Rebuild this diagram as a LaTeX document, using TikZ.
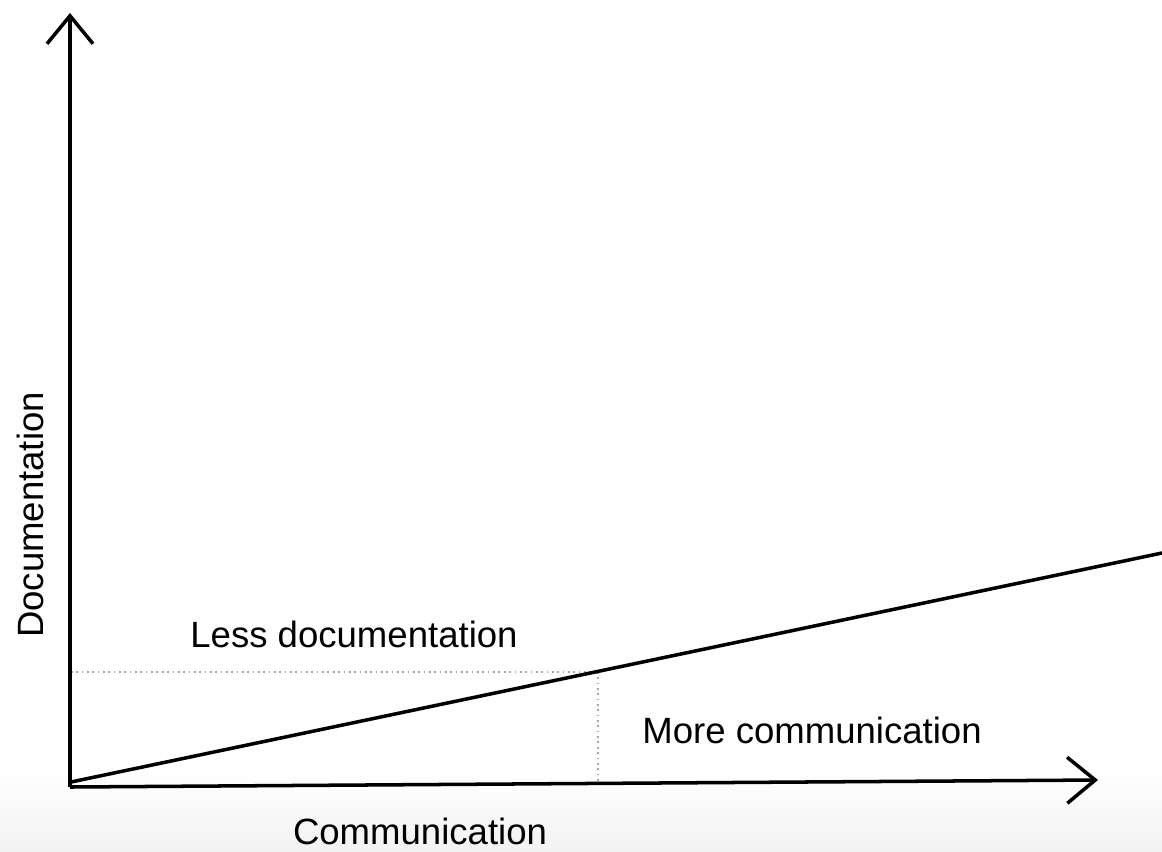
\documentclass[tikz,border=0pt]{standalone}
\usepackage{fontspec}
\setmainfont{Liberation Sans}
\usetikzlibrary{arrows.meta}

\begin{document}
\begin{tikzpicture}[
        x=0.025cm, y=-0.025cm,
        axis/.style={line width=2.5pt, -{Straight Barb[length=0.7cm, width=1.15cm, line width=2.5pt]}},
        guide/.style={gray!70, line width=1pt, dash pattern=on 1.2pt off 2.6pt},
        axislabel/.style={font=\fontsize{26}{31}\selectfont, inner sep=0pt}
    ]
        \useasboundingbox (0, 0) rectangle (1162, 851);
        \shade[top color=white, bottom color=gray!10] (0, 770) rectangle (1162, 851);

        \coordinate (O) at (70, 787);
        \coordinate (ytip) at (70, 13);
        \coordinate (xtip) at (1098, 780);
        \coordinate (start) at (71, 782);
        \coordinate (end) at (1162, 553);
        \coordinate (P) at (598, 672);
        \coordinate (Py) at (71, 672);
        \coordinate (Px) at (598, 785);

        \draw[guide] (Py) -- (P);
        \draw[guide] (P) -- (Px);

        \draw[axis] (O) -- (ytip);
        \draw[axis] (O) -- (xtip);
        \draw[line width=2.5pt] (start) -- (end);

        \node[axislabel, rotate=90] (doc) at (30, 515) {Documentation};
        \node[axislabel] (comm) at (420, 831) {Communication};
        \node[axislabel] (less) at (354, 634) {Less documentation};
        \node[axislabel] (more) at (812, 730) {More communication};
    \end{tikzpicture}
\end{document}
